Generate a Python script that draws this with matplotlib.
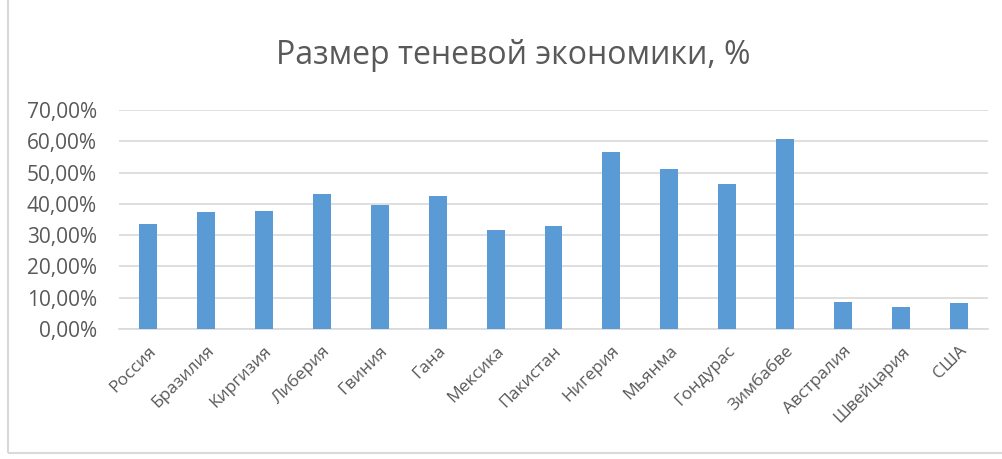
""" Shadow economy size bar chart
"""

import matplotlib
import matplotlib.pyplot as plt
from matplotlib.patches import Rectangle
from matplotlib.ticker import FuncFormatter

matplotlib.pyplot.switch_backend("Agg")

# data
countries = ["Россия", "Бразилия", "Киргизия", "Либерия", "Гвиния", "Гана",
             "Мексика", "Пакистан", "Нигерия", "Мьянма", "Гондурас",
             "Зимбабве", "Австралия", "Швейцария", "США"]
shares = [0.336, 0.375, 0.378, 0.432, 0.397, 0.426, 0.317, 0.330, 0.567,
          0.512, 0.464, 0.608, 0.086, 0.070, 0.083]
yticks = [0.0, 0.1, 0.2, 0.3, 0.4, 0.5, 0.6, 0.7]

bar_color = "#5b9bd5"
text_color = "#595959"
grid_color = "#d9d9d9"
dpi = 100

plt.rcParams["font.family"] = ["Open Sans", "DejaVu Sans"]

fig = plt.figure(figsize=(1003 / dpi, 459 / dpi), dpi=dpi)
ax = fig.add_axes([119 / 1003, 1 - 329 / 459, 869 / 1003, 219 / 459])

x = range(len(countries))
ax.bar(x, shares, width=0.31, color=bar_color, zorder=3)

ax.set_xlim(-0.5, len(countries) - 0.5)
ax.set_ylim(0, 0.7)
ax.set_yticks(yticks)
ax.yaxis.set_major_formatter(
    FuncFormatter(lambda v, _: f"{v * 100:.2f}".replace(".", ",") + "%"))
ax.grid(axis="y", color=grid_color, linewidth=1.2, zorder=0)
ax.tick_params(axis="y", length=0, pad=16, labelsize=15,
               labelcolor=text_color)

ax.set_xticks(list(x))
ax.set_xticklabels(countries, rotation=45, ha="right",
                   rotation_mode="anchor")
ax.tick_params(axis="x", length=0, pad=10, labelsize=12.5,
               labelcolor=text_color)

for side in ("top", "right", "left"):
    ax.spines[side].set_visible(False)
ax.spines["bottom"].set_color(grid_color)
ax.spines["bottom"].set_linewidth(1.2)

fig.suptitle("Размер теневой экономики, %", x=513 / 1003, y=1 - 56 / 459,
             va="center", fontsize=23, color=text_color)

# chart border
fig.patches.append(Rectangle((8 / 1003, 6 / 459), 1.2, 1.2,
                             transform=fig.transFigure, fill=False,
                             edgecolor=grid_color, linewidth=1.5))

fig.savefig("out.png", dpi=dpi)
